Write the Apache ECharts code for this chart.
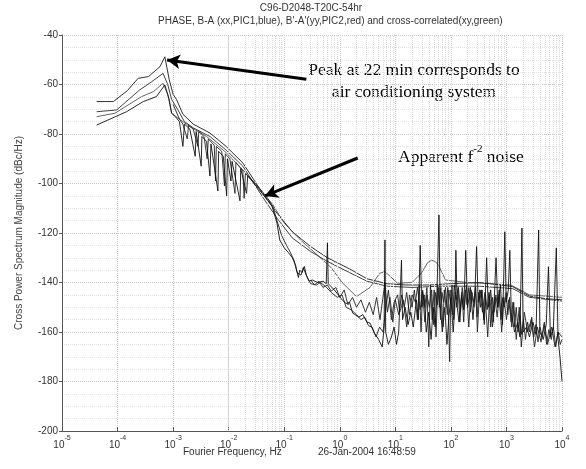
<!DOCTYPE html>
<html>
<head>
<meta charset="utf-8">
<script src="https://cdn.jsdelivr.net/npm/echarts@6/dist/echarts.min.js"></script>
<style>html,body{margin:0;padding:0;background:#fff}#c{width:586px;height:469px}</style>
</head>
<body>
<div id="c"></div>
<script>
// ---- data ----
var titleLine1 = 'C96-D2048-T20C-54hr';
var titleLine2 = "PHASE, B-A (xx,PIC1,blue), B'-A'(yy,PIC2,red) and cross-correlated(xy,green)";
var yTicks = [-200, -180, -160, -140, -120, -100, -80, -60, -40];
var xDecades = [-5, -4, -3, -2, -1, 0, 1, 2, 3, 4];

var seriesA = [[4.2e-5,-66.9],[8.4e-5,-66.9],[1.5e-4,-62.5],[2.35e-4,-57.5],[3.6e-4,-56.8],[5.8e-4,-52.8],[7.1e-4,-48.8],[8.5e-4,-58],[1.0e-3,-64],[1.15e-3,-66],[1.5e-3,-72],[2.3e-3,-76],[4.6e-3,-79.6],[9e-3,-85],[1.8e-2,-91.7],[4.1e-2,-104],[7.4e-2,-112],[0.14,-119.5],[0.3,-125.5],[0.6,-130],[1.5,-134.5],[3.1,-138.5],[7.1,-140.5],[15,-141],[42,-141],[100,-140.5],[330,-140],[800,-141],[1300,-141.7],[2600,-145.5],[5000,-146.5],[1e4,-147]];

var seriesB = [[4.2e-5,-71],[9.6e-5,-70.3],[2.5e-4,-62.2],[4.1e-4,-58.9],[6.6e-4,-55.5],[8e-4,-60],[9.4e-4,-66],[1.2e-3,-70],[1.6e-3,-75],[2.3e-3,-77.5],[4.6e-3,-81],[9e-3,-86.5],[1.8e-2,-93],[4.1e-2,-105.5],[7.4e-2,-114],[0.14,-122],[0.3,-127.5],[0.6,-131.5],[1.5,-136],[3.1,-139.5],[7.1,-141.5],[20,-142],[60,-141.5],[330,-141.5],[1300,-142.5],[2600,-146],[1e4,-147.5]];

var seriesC = [[4.2e-5,-73],[9e-5,-71.6],[2.7e-4,-64.9],[4.4e-4,-62.9],[6.6e-4,-59.5],[8e-4,-64],[9.4e-4,-71.6],[1.3e-3,-74],[2e-3,-77],[4e-3,-81],[9e-3,-87.5],[1.8e-2,-94.5],[3.6e-2,-102],[6.2e-2,-108.5],[0.1,-116],[0.2,-123],[0.4,-129],[0.7,-134],[1.1,-140],[2,-145.7],[3.5,-142],[5.2,-136.3],[6.5,-135.6],[11,-140.3],[20,-140],[30,-136],[38,-132],[45,-131],[52,-131.5],[60,-133],[80,-139],[200,-140],[500,-140.5],[1200,-141],[2600,-145],[1e4,-146]];

var noisyX = [[4.2e-5,-76.4],[1.45e-4,-71],[2.9e-4,-66.9],[5e-4,-64.9],[7.1e-4,-60.2],[8.5e-4,-66],[9.4e-4,-71.6],[1.1e-3,-73],[1.3e-3,-75],[1.5e-3,-85],[1.6e-3,-76],[2.0e-3,-78],[2.5e-3,-89],[2.6e-3,-79],[3.2e-3,-93],[3.3e-3,-81],[4.0e-3,-83],[4.6e-3,-97],[4.8e-3,-84],[6.4e-3,-103],[6.6e-3,-87],[8e-3,-89],[9.2e-3,-105],[9.5e-3,-90],[1.1e-2,-99],[1.15e-2,-91],[1.6e-2,-107],[1.65e-2,-94],[2.1e-2,-104],[2.2e-2,-97],[3e-2,-100.5],[4e-2,-104],[6e-2,-109],[7.4e-2,-116],[0.083,-122.8],[0.1,-126],[0.12,-128],[0.14,-130],[0.16,-133],[0.18,-138],[0.19,-135],[0.21,-136],[0.23,-133.5],[0.25,-137],[0.28,-139.5],[0.32,-139],[0.4,-140],[0.5,-139.5],[0.57,-140.5],[0.6,-124],[0.62,-140.5],[0.8,-143],[1.1,-147],[1.3,-148.5],[1.5,-148],[1.7,-152.3],[2.2,-154],[2.6,-153],[3.1,-156],[3.5,-156.4],[4.2,-160.5],[5,-163],[5.8,-166],[6.3,-158],[6.5,-122.8],[6.7,-160],[7.5,-165],[8.5,-162],[9.5,-158],[10.5,-165],[11.5,-160],[12.9,-131],[13.5,-155],[15,-150],[17,-157],[19,-152],[21,-158],[24,-147],[26,-155],[28,-125],[30,-150],[33,-145],[36,-160],[40,-152],[44,-163],[48,-150],[52,-158],[56,-145],[61,-112.7],[64,-148],[70,-160],[78,-150],[85,-165],[92,-154],[100,-146],[110,-160],[118,-150],[123,-127],[130,-150],[140,-156],[155,-145],[170,-151],[185,-127],[200,-150],[225,-142],[250,-155],[270,-145],[290,-125.5],[310,-148],[350,-143],[400,-157],[440,-130],[470,-150],[520,-143],[580,-156],[650,-130],[700,-150],[780,-141],[850,-157],[935,-119.5],[990,-148],[1080,-143],[1150,-127],[1220,-152],[1400,-160],[1600,-156],[1750,-162],[1900,-118],[2000,-160],[2300,-158],[2600,-162],[3000,-156],[3400,-161],[3800,-118.8],[4000,-160],[4600,-163],[5200,-157],[5700,-133.6],[6200,-162],[7000,-158],[7900,-126],[8500,-163],[9200,-170],[1e4,-180]];

var noisyY = [[1.0e-3,-68],[1.3e-3,-74],[1.5e-3,-76],[1.8e-3,-82],[1.9e-3,-76.5],[2.3e-3,-78],[2.8e-3,-85],[2.9e-3,-79],[3.6e-3,-81],[4.1e-3,-90],[4.3e-3,-82],[5.5e-3,-84.5],[5.8e-3,-99],[6e-3,-85],[7.5e-3,-87],[8.4e-3,-101],[8.7e-3,-88],[1.05e-2,-90],[1.3e-2,-104],[1.35e-2,-91.5],[1.8e-2,-95],[1.9e-2,-106],[2e-2,-96],[2.6e-2,-98.5],[3.6e-2,-102],[5e-2,-106],[6.2e-2,-109],[7.4e-2,-115],[0.09,-121],[0.11,-125],[0.13,-128],[0.15,-131],[0.17,-136],[0.2,-137],[0.22,-134],[0.26,-138],[0.3,-140.5],[0.38,-141],[0.45,-140],[0.55,-141.5],[0.7,-144],[0.9,-146],[1.1,-145],[1.3,-150],[1.6,-151],[2,-153],[2.4,-155],[2.8,-154],[3.3,-157.5],[3.8,-158],[4.5,-162],[5.2,-158],[6,-160],[6.8,-150],[7.5,-143],[8.5,-155],[9.5,-148],[11,-145],[12,-152],[14,-147],[16,-158],[18,-145],[20,-150],[22,-143],[25,-155],[27,-141],[29,-160],[31,-143],[34,-150],[37,-142],[40,-166],[43,-141],[46,-155],[50,-143],[54,-162],[58,-141],[62,-150],[66,-142],[72,-158],[76,-143],[82,-150],[88,-142],[95,-172],[100,-143],[108,-153],[115,-141],[125,-147],[135,-142],[145,-156],[160,-142],[175,-150],[190,-141],[210,-158],[230,-143],[260,-150],[280,-142],[300,-160],[330,-143],[370,-152],[410,-144],[460,-162],[500,-145],[560,-158],[620,-146],[680,-154],[740,-145],[820,-160],[900,-146],[1000,-155],[1100,-147],[1250,-158],[1350,-148],[1500,-163],[1700,-150],[1850,-166],[2100,-152],[2400,-160],[2800,-155],[3200,-166],[3600,-158],[4200,-164],[4800,-156],[5500,-165],[6500,-158],[7500,-166],[8500,-160],[1e4,-162]];

var noisyZ = [[0.3,-139],[0.35,-141],[0.42,-139.5],[0.5,-142],[0.6,-141],[0.7,-143.5],[0.85,-142],[1.0,-146],[1.2,-143],[1.4,-149],[1.7,-146],[2.0,-150],[2.4,-147],[2.9,-152],[3.4,-148],[4.0,-153],[4.6,-146],[5.3,-155],[5.9,-147],[6.5,-140],[7.2,-152],[8,-146],[9,-156],[10,-147],[11.5,-153],[13,-145],[14.5,-150],[16,-144],[18,-153],[20,-145],[23,-148],[25,-142],[28,-151],[31,-144],[34,-156],[37,-145],[41,-150],[45,-143],[49,-157],[53,-144],[57,-149],[61,-142],[65,-155],[69,-144],[74,-148],[80,-142],[86,-153],[92,-143],[99,-149],[105,-141],[112,-155],[120,-144],[128,-150],[137,-142],[148,-152],[158,-144],[170,-156],[182,-143],[195,-149],[210,-142],[225,-152],[240,-144],[258,-148],[276,-142],[296,-154],[318,-144],[340,-150],[365,-143],[392,-155],[420,-145],[450,-151],[485,-144],[520,-158],[560,-146],[600,-152],[645,-145],[690,-150],[740,-143],[800,-155],[860,-146],[920,-150],[990,-144],[1060,-153],[1140,-146],[1220,-156],[1310,-148],[1400,-158],[1500,-150],[1620,-160],[1750,-153],[1880,-161],[2020,-155],[2200,-163],[2400,-156],[2600,-160],[2850,-154],[3100,-162],[3400,-157],[3700,-164],[4000,-158],[4400,-162],[4800,-157],[5300,-165],[5800,-159],[6400,-163],[7000,-158],[7700,-166],[8500,-160],[9300,-165],[1e4,-163]];

// ---- chart ----
var minorGrid = [];
xDecades.slice(0, -1).forEach(function (d) {
  for (var m = 2; m <= 9; m++) minorGrid.push({ xAxis: m * Math.pow(10, d) });
});

function lineSeries(name, data, color, width, z) {
  return {
    name: name, type: 'line', data: data, showSymbol: false, symbol: 'none',
    lineStyle: { color: color, width: width }, z: z, silent: true, animation: false
  };
}

var chart = echarts.init(document.getElementById('c'), null, { renderer: 'canvas' });
chart.setOption({
  animation: false,
  backgroundColor: '#fff',
  grid: { left: 62, right: 24, top: 35, bottom: 38 },
  xAxis: {
    type: 'log', logBase: 10, min: 1e-5, max: 1e4, splitNumber: 9,
    axisLine: { lineStyle: { color: '#555', width: 1 } },
    axisTick: { show: true, inside: true, length: 4, lineStyle: { color: '#555' } },
    axisLabel: {
      margin: 4, color: '#333',
      formatter: function (v) { var e = Math.round(Math.log10(v)); return '{b|10}{s|' + e + '}'; },
      rich: {
        b: { fontSize: 10, fontFamily: 'Liberation Sans', color: '#333', lineHeight: 15, verticalAlign: 'bottom' },
        s: { fontSize: 7, fontFamily: 'Liberation Sans', color: '#333', verticalAlign: 'top' }
      }
    },
    splitLine: { show: true, lineStyle: { color: '#c8c8c8', type: 'dotted', width: 1 } }
  },
  yAxis: {
    type: 'value', min: -200, max: -40, interval: 20,
    name: 'Cross Power Spectrum Magnitude (dBc/Hz)', nameLocation: 'middle', nameGap: 38, nameRotate: 90,
    nameTextStyle: { fontSize: 10, fontFamily: 'Liberation Sans', color: '#444' },
    axisLine: { show: true, lineStyle: { color: '#555', width: 1 } },
    axisTick: { show: true, inside: false, length: 3, lineStyle: { color: '#555' } },
    axisLabel: { fontSize: 10, fontFamily: 'Liberation Sans', color: '#333', margin: 4 },
    splitLine: { show: true, lineStyle: { color: '#c8c8c8', type: 'dotted', width: 1 } },
    minorTick: { show: false, splitNumber: 4 },
    minorSplitLine: { show: true, lineStyle: { color: '#e2e2e2', type: 'dotted', width: 1 } }
  },
  series: [
    {
      type: 'line', data: [], silent: true, z: 1,
      markLine: {
        silent: true, symbol: ['none', 'none'], animation: false,
        label: { show: false },
        lineStyle: { color: '#d8d8d8', type: 'dotted', width: 1 },
        data: minorGrid
      }
    },
    lineSeries('xy', seriesC, '#666', 1, 3),
    lineSeries('yy', seriesB, '#444', 1, 3),
    lineSeries('xx', seriesA, '#333', 1, 4),
    lineSeries('noisyZ', noisyZ, '#222', 0.9, 5),
    lineSeries('noisyY', noisyY, '#222', 0.9, 5),
    lineSeries('noisyX', noisyX, '#111', 0.9, 5),
    {
      type: 'line', data: [], silent: true, z: 10,
      markLine: {
        silent: true, animation: false, symbol: ['none', 'arrow'], symbolSize: [11, 13],
        label: { show: false },
        lineStyle: { color: '#000', width: 3, type: 'solid' },
        data: [
          [{ coord: [0.25, -57.9] }, { coord: [7.8e-4, -50.1] }],
          [{ coord: [2.1, -89.7] }, { coord: [0.045, -105] }]
        ]
      }
    }
  ],
  graphic: [
    { type: 'text', x: 311, y: 3, style: { text: titleLine1, textAlign: 'center', fontSize: 10, fontFamily: 'Liberation Sans', fill: '#333' } },
    { type: 'text', x: 158, y: 16, style: { text: titleLine2, fontSize: 10, fontFamily: 'Liberation Sans', fill: '#333' } },
    { type: 'text', x: 414, y: 59, style: { text: 'Peak at 22 min corresponds to\nair conditioning system', textAlign: 'center', fontSize: 17.5, lineHeight: 22, fontFamily: 'Liberation Serif', fill: '#000' } },
    { type: 'text', x: 398, y: 144, style: {
        text: '{n|Apparent f}{s|-2}{n| noise}',
        rich: {
          n: { fontSize: 17.5, fontFamily: 'Liberation Serif', fill: '#000', color: '#000', lineHeight: 22, verticalAlign: 'bottom' },
          s: { fontSize: 11, fontFamily: 'Liberation Serif', fill: '#000', color: '#000', verticalAlign: 'top' }
        } } },
    { type: 'text', x: 183, y: 447, style: { text: 'Fourier Frequency, Hz', fontSize: 10, fontFamily: 'Liberation Sans', fill: '#333' } },
    { type: 'text', x: 318, y: 447, style: { text: '26-Jan-2004 16:48:59', fontSize: 10, fontFamily: 'Liberation Sans', fill: '#333' } }
  ]
});
</script>
</body>
</html>
